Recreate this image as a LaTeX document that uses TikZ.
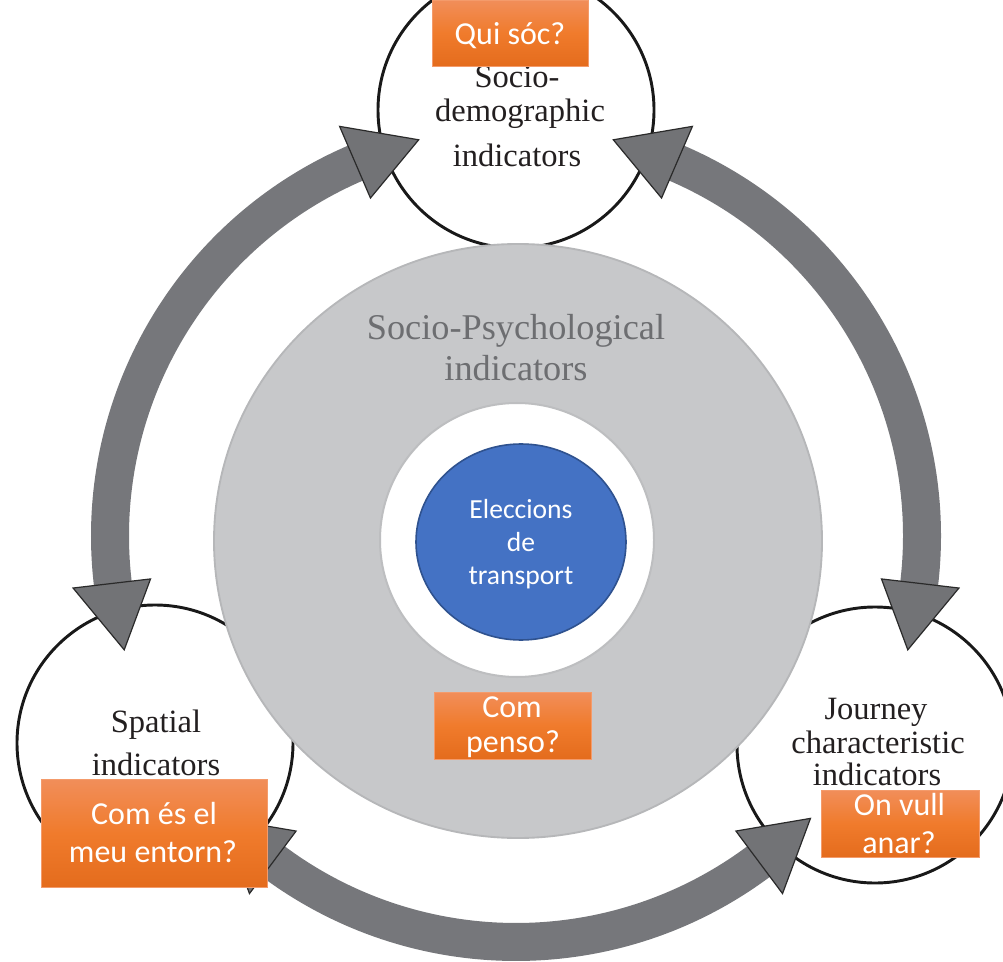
\documentclass[tikz,border=0pt]{standalone}
\usepackage{fontspec}
\usetikzlibrary{shapes.geometric}
\setmainfont{Liberation Serif}
\newfontfamily\carlito{Carlito}
\definecolor{ringgray}{HTML}{76777B}
\definecolor{headgray}{HTML}{727376}
\definecolor{headedge}{HTML}{2A2A2A}
\definecolor{discgray}{HTML}{C7C8CA}
\definecolor{discedge}{HTML}{B6B7B9}
\definecolor{whiteedge}{HTML}{BDBEC0}
\definecolor{bluefill}{HTML}{4472C4}
\definecolor{blueedge}{HTML}{2F528F}
\definecolor{orangetop}{HTML}{F18E5A}
\definecolor{orangemid}{HTML}{F07B2C}
\definecolor{orangebot}{HTML}{E46C1D}
\definecolor{orangeedge}{HTML}{F49B6B}
\definecolor{labelblack}{HTML}{231F20}
\definecolor{psygray}{HTML}{6D6E71}
\tikzset{
  smallcirc/.style={circle, draw=black!90, line width=2.2pt, fill=white, minimum size=207pt, inner sep=0pt},
  ringbody/.style={draw=ringgray, line width=28.5pt},
  headtri/.style={fill=headgray, draw=headedge, line width=0.9pt, line join=miter},
  obox/.style={rectangle, inner sep=0pt, top color=orangetop, bottom color=orangebot, middle color=orangemid, draw=orangeedge, line width=0.6pt},
  serifl/.style={font=\fontsize{24.4}{29}\selectfont, text=labelblack, inner sep=0pt, anchor=base},
  psyl/.style={font=\fontsize{27.2}{32}\selectfont, text=psygray, inner sep=0pt, anchor=base},
  otext/.style={font=\carlito\fontsize{24}{28}\selectfont, text=white, inner sep=0pt, anchor=base},
  btext/.style={font=\carlito\fontsize{20.7}{25}\selectfont, text=white, inner sep=0pt, anchor=base}
}
\begin{document}
\begin{tikzpicture}[x=0.75pt,y=-0.75pt]
\clip (0,0) rectangle (1003,962);
% three indicator circles
\node[smallcirc] (topc) at (516,110) {};
\node[smallcirc] (leftc) at (155,743) {};
\node[smallcirc] (rightc) at (875,745) {};
% socio-psychological disc
\node[ellipse, fill=discgray, draw=discedge, line width=1.4pt, minimum width=456pt, minimum height=445.5pt, inner sep=0pt] (psy) at (518,541) {};
\node[circle, fill=white, draw=whiteedge, line width=1.5pt, minimum size=205.5pt, inner sep=0pt] (hole) at (517,540) {};
\node[ellipse, fill=bluefill, draw=blueedge, line width=1.2pt, minimum width=157.5pt, minimum height=147pt, inner sep=0pt] (choice) at (521,542) {};
% ring of double arrows
\begin{scope}[shift={(516,536)}]
  \draw[ringbody] (172.8:406) arc[start angle=172.8, end angle=247.2, radius=406];
  \draw[ringbody] (292.8:406) arc[start angle=292.8, end angle=367.2, radius=406];
  \draw[ringbody] (52.8:406) arc[start angle=52.8, end angle=127.2, radius=406];
  \foreach \a in {270,150,30}{
    \foreach \s in {1,-1}{
      \draw[headtri] ({\a+\s*23.3}:368) -- ({\a+\s*23.3}:446) -- ({\a+\s*13.8}:408) -- cycle;
    }
  }
\end{scope}
% labels
\node[serifl] (t1) at (517,88) {Socio-};
\node[serifl] (t2) at (520,122) {demographic};
\node[serifl] (t3) at (517,167) {indicators};
\node[serifl] (s1) at (156,732) {Spatial};
\node[serifl] (s2) at (156,775) {indicators};
\node[serifl] (j1) at (876,719) {Journey};
\node[serifl] (j2) at (878,753) {characteristic};
\node[serifl] (j3) at (877,785) {indicators};
\node[psyl] (p1) at (516,340) {Socio-Psychological};
\node[psyl] (p2) at (516,381) {indicators};
\node[btext] (b1) at (521,518) {Eleccions};
\node[btext] (b2) at (521,551) {de};
\node[btext] (b3) at (521,584) {transport};
% orange question boxes
\node[obox, minimum width=117pt, minimum height=49.5pt] (qbox) at (510,33) {};
\node[otext] (q1) at (510,45) {Qui sóc?};
\node[obox, minimum width=117.75pt, minimum height=50.25pt] (pbox) at (512.5,725.5) {};
\node[otext] (pq1) at (512,717) {Com};
\node[otext] (pq2) at (513,752) {penso?};
\node[obox, minimum width=169.5pt, minimum height=81pt] (ebox) at (154,833) {};
\node[otext] (e1) at (154,824) {Com és el};
\node[otext] (e2) at (153,862) {meu entorn?};
\node[obox, minimum width=118.5pt, minimum height=50.25pt] (obox2) at (900,823.5) {};
\node[otext] (o1) at (899.5,815) {On vull};
\node[otext] (o2) at (899,853) {anar?};
\end{tikzpicture}
\end{document}
